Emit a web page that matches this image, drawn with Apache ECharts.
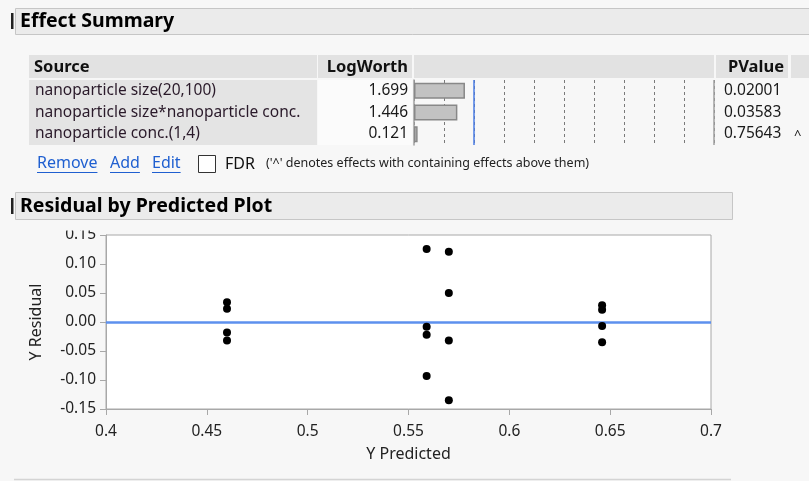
<!DOCTYPE html>
<html>
<head>
<meta charset="utf-8">
<script src="https://cdn.jsdelivr.net/npm/echarts@6/dist/echarts.min.js"></script>
<style>
html,body{margin:0;padding:0;background:#f7f7f7;}
#chart{width:809px;height:481px;}
</style>
</head>
<body>
<div id="chart"></div>
<script>
// ---- Effect Summary data ----
const sources = ['nanoparticle size(20,100)', 'nanoparticle size*nanoparticle conc.', 'nanoparticle conc.(1,4)'];
const logWorth = [1.699, 1.446, 0.121];
const pValues = ['0.02001', '0.03583', '0.75643'];
const pFlags = ['', '', '^'];
const logWorthRef = 2;

// ---- Residual by Predicted data ----
const predicted = [0.46, 0.46, 0.46, 0.46,
                   0.559, 0.559, 0.559, 0.559,
                   0.570, 0.570, 0.570, 0.570,
                   0.646, 0.646, 0.646, 0.646];
const residual = [0.034, 0.023, -0.018, -0.032,
                  0.126, -0.008, -0.022, -0.093,
                  0.121, 0.050, -0.032, -0.135,
                  0.029, 0.021, -0.007, -0.035];
const xTicks = {min: 0.4, max: 0.7, interval: 0.05};
const yTicks = {min: -0.15, max: 0.15, interval: 0.05};

const FONT = '"Noto Sans", "Open Sans", sans-serif';
const chart = echarts.init(document.getElementById('chart'), null, {renderer: 'canvas'});

const measureCtx = document.createElement('canvas').getContext('2d');
function textWidth(s, font) { measureCtx.font = font; return measureCtx.measureText(s).width; }

const rowY = [91, 113, 134];
const graphics = [];
function txt(x, y, s, o) {
  graphics.push({type: 'text', x: x, y: y, silent: true, z: 10,
    style: Object.assign({text: s, fill: '#1a1a1a', font: '15.5px ' + FONT, textVerticalAlign: 'middle', textAlign: 'left'}, o || {})});
}
function rect(x, y, w, h, fill, stroke, lw, z) {
  graphics.push({type: 'rect', silent: true, z: z || 1, shape: {x: x, y: y, width: w, height: h},
    style: {fill: fill, stroke: stroke || null, lineWidth: lw || 1}});
}
function line(x1, y1, x2, y2, stroke, lw) {
  graphics.push({type: 'line', silent: true, z: 2, shape: {x1: x1, y1: y1, x2: x2, y2: y2},
    style: {stroke: stroke, lineWidth: lw || 1}});
}

// Effect Summary header
rect(15.5, 8.5, 800, 26, '#ebebeb', '#c6c6c6');
rect(11, 13, 2.5, 16, '#222');
txt(20, 21, 'Effect Summary', {font: 'bold 19.5px ' + FONT, fill: '#000'});

// table header cells
rect(29, 55, 288, 23, '#e2e2e2');
rect(318, 55, 94, 23, '#e2e2e2');
rect(414, 55, 300, 23, '#e2e2e2');
rect(716, 55, 72, 23, '#e2e2e2');
rect(791, 55, 20, 23, '#e2e2e2');
const HB = 'bold 16.5px ' + FONT;
txt(34, 67, 'Source', {font: HB, fill: '#111'});
txt(408, 67, 'LogWorth', {font: HB, fill: '#111', textAlign: 'right'});
txt(784, 67, 'PValue', {font: HB, fill: '#111', textAlign: 'right'});

// source rows
rect(318, 80, 94, 65, '#fbfbfb');
rect(29, 80, 288, 65, '#e4e4e4');
sources.forEach(function (s, i) {
  txt(35, rowY[i], s, {fill: '#2a1a2a'});
  txt(408, rowY[i], logWorth[i].toFixed(3), {textAlign: 'right'});
  txt(724, rowY[i], pValues[i]);
  if (pFlags[i]) txt(794, rowY[i] + 1, pFlags[i], {font: '13px ' + FONT});
});

// links row
const LF = '16px ' + FONT;
[['Remove', 37], ['Add', 110], ['Edit', 152]].forEach(function (l) {
  txt(l[1], 163, l[0], {fill: '#1f5fd0', font: LF});
  line(l[1], 172.5, l[1] + textWidth(l[0], LF), 172.5, '#1f5fd0', 1);
});
rect(198.5, 155.5, 17, 17, '#fff', '#333');
txt(225, 164, 'FDR', {font: '16px ' + FONT, fill: '#111'});
txt(266, 163, "('^' denotes effects with containing effects above them)", {font: '12.5px ' + FONT, fill: '#222'});

// Residual header
rect(15.5, 192.5, 717, 27, '#ebebeb', '#c6c6c6');
rect(11, 198, 2.5, 16, '#222');
txt(20, 206, 'Residual by Predicted Plot', {font: 'bold 19.5px ' + FONT, fill: '#000'});
// slight clip above the top tick label, as in the reference
rect(40, 220.5, 62, 10, '#f7f7f7', null, 1, 100);

// bottom rule
line(14, 479.5, 731, 479.5, '#d4d4d4', 1.5);

const axisColor = '#a8a8a8';
const option = {
  backgroundColor: '#f7f7f7',
  animation: false,
  textStyle: {fontFamily: FONT},
  graphic: graphics,
  grid: [
    {left: 106, top: 235, width: 605, height: 174, show: true, backgroundColor: '#ffffff', borderColor: axisColor, borderWidth: 1},
    {left: 414, top: 80, width: 300, height: 65, show: false}
  ],
  xAxis: [
    {gridIndex: 0, type: 'value', min: xTicks.min, max: xTicks.max, interval: xTicks.interval,
      name: 'Y Predicted', nameLocation: 'middle', nameGap: 37,
      nameTextStyle: {fontSize: 16, color: '#222', fontFamily: FONT},
      axisLine: {show: true, onZero: false, lineStyle: {color: axisColor}},
      axisTick: {show: true, length: 6, lineStyle: {color: axisColor}},
      axisLabel: {fontSize: 15.5, color: '#222', margin: 15, fontFamily: FONT,
        formatter: function (v) { return String(parseFloat(v.toFixed(2))); }},
      splitLine: {show: false}},
    {gridIndex: 1, type: 'value', min: 0, max: 10, interval: 1,
      axisLine: {show: false}, axisTick: {show: false}, axisLabel: {show: false},
      splitLine: {show: true, lineStyle: {color: '#7a7a7a', type: [3, 3], width: 1}}}
  ],
  yAxis: [
    {gridIndex: 0, type: 'value', min: yTicks.min, max: yTicks.max, interval: yTicks.interval,
      name: 'Y Residual', nameLocation: 'middle', nameGap: 62, nameRotate: 90,
      nameTextStyle: {fontSize: 16, color: '#222', fontFamily: FONT},
      axisLine: {show: true, onZero: false, lineStyle: {color: axisColor}},
      axisTick: {show: true, length: 6, lineStyle: {color: axisColor}},
      axisLabel: {fontSize: 15.5, color: '#222', margin: 10, fontFamily: FONT,
        formatter: function (v) { return v.toFixed(2); }},
      splitLine: {show: false}},
    {gridIndex: 1, type: 'category', data: sources, inverse: true,
      axisLine: {show: true, lineStyle: {color: '#a0a0a0', width: 1.5}},
      axisTick: {show: false}, axisLabel: {show: false}}
  ],
  series: [
    {type: 'scatter', xAxisIndex: 0, yAxisIndex: 0,
      data: predicted.map(function (x, i) { return [x, residual[i]]; }),
      symbolSize: 8, itemStyle: {color: '#000', opacity: 1}, z: 5,
      markLine: {silent: true, symbol: 'none', label: {show: false},
        lineStyle: {color: '#5d90ee', width: 2.5, type: 'solid'},
        data: [{yAxis: 0}]}},
    {type: 'bar', xAxisIndex: 1, yAxisIndex: 1, data: logWorth, barWidth: 16,
      itemStyle: {color: '#c2c2c2', borderColor: '#888', borderWidth: 1.5},
      markLine: {silent: true, symbol: 'none', label: {show: false}, animation: false,
        data: [
          {xAxis: logWorthRef, lineStyle: {color: '#4a7de6', width: 1.5, type: 'solid'}},
          {xAxis: 10, lineStyle: {color: '#a0a0a0', width: 1.5, type: 'solid'}}
        ]}}
  ]
};
chart.setOption(option);
</script>
</body>
</html>
